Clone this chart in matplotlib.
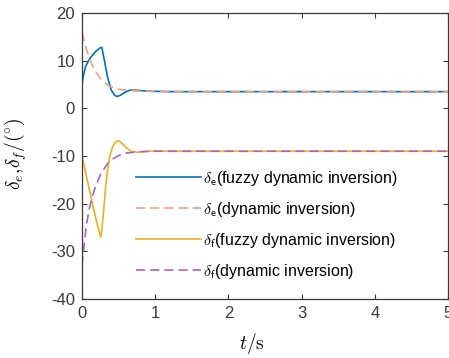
import numpy as np
import matplotlib
matplotlib.use("Agg")
import matplotlib.pyplot as plt

plt.rcParams['mathtext.fontset'] = 'cm'
plt.rcParams['font.family'] = ['Liberation Sans', 'DejaVu Sans']
plt.rcParams['axes.unicode_minus'] = False

# curves (t in s, deflection in degrees)
t_fe = [0, 0.02, 0.05, 0.1, 0.15, 0.2, 0.25, 0.27, 0.3, 0.35, 0.4, 0.45, 0.48,
        0.52, 0.58, 0.65, 0.75, 0.9, 1.2, 2, 3, 4, 5]
de_fuzzy = [5.0, 7.0, 8.8, 10.3, 11.3, 12.1, 12.7, 12.8, 10.5, 6.5, 3.8, 2.7, 2.5,
            2.7, 3.3, 3.8, 3.8, 3.6, 3.5, 3.5, 3.5, 3.5, 3.5]

t_de = [0, 0.05, 0.1, 0.15, 0.2, 0.25, 0.3, 0.35, 0.4, 0.5, 0.6, 0.7, 0.8, 1.0, 1.5, 5]
de_dyn = [16.0, 13.0, 10.5, 8.8, 7.4, 6.3, 5.5, 4.9, 4.5, 4.0, 3.8, 3.7, 3.6, 3.55, 3.5, 3.5]

t_ff = [0, 0.05, 0.1, 0.15, 0.2, 0.25, 0.26, 0.29, 0.32, 0.35, 0.38, 0.42, 0.46, 0.5,
        0.55, 0.6, 0.67, 0.75, 0.9, 1.2, 5]
df_fuzzy = [-10.0, -13.5, -17.0, -20.5, -23.8, -26.8, -27.0, -22.5, -17.0, -12.8, -10.0,
            -8.0, -7.0, -6.8, -7.4, -8.2, -9.0, -9.2, -9.0, -9.0, -9.0]

t_df = [0, 0.03, 0.06, 0.1, 0.15, 0.2, 0.25, 0.3, 0.35, 0.4, 0.5, 0.6, 0.7, 0.8, 1.0, 1.5, 5]
df_dyn = [-33.0, -28.5, -24.5, -21.0, -18.0, -15.8, -14.0, -12.7, -11.6, -10.8, -9.9,
          -9.4, -9.2, -9.1, -9.0, -9.0, -9.0]

labels = [r'$\delta_{\mathsf{e}}$(fuzzy dynamic inversion)',
          r'$\delta_{\mathsf{e}}$(dynamic inversion)',
          r'$\delta_{\mathsf{f}}$(fuzzy dynamic inversion)',
          r'$\delta_{\mathsf{f}}$(dynamic inversion)']

fig = plt.figure(figsize=(4.49, 3.58), dpi=100)
ax = fig.add_axes([82 / 449, 1 - 299 / 358, 366 / 449, 286 / 358])

dash = (0, (5.5, 3))
ax.plot(t_fe, de_fuzzy, color='#0072BD', lw=1.2, label=labels[0])
ax.plot(t_de, de_dyn, color='#EE9E80', lw=1.2, ls=dash, label=labels[1])
ax.plot(t_ff, df_fuzzy, color='#EDB120', lw=1.2, label=labels[2])
ax.plot(t_df, df_dyn, color='#A965BA', lw=1.2, ls=dash, label=labels[3])

ax.set_xlim(0, 5)
ax.set_ylim(-40, 20)
ax.set_xticks(range(0, 6))
ax.set_yticks(range(-40, 21, 10))
ax.tick_params(direction='in', top=True, right=True, length=3.5, width=0.8,
               labelsize=12, colors='#3a3a3a', pad=5)
for s in ax.spines.values():
    s.set_color('#3a3a3a')
    s.set_linewidth(0.9)

ax.set_xlabel(r'$t/\mathrm{s}$', fontsize=14)
ax.xaxis.set_label_coords(0.465, -0.112)
ax.set_ylabel(r'$\delta_e,\!\delta_f/(^{\circ})$', fontsize=14)
ax.yaxis.set_label_coords(-0.145, 0.507)

ax.legend(loc='center', bbox_to_anchor=(0.505, 0.26), frameon=False, fontsize=11.5,
          handlelength=4.1, handletextpad=0.1, labelspacing=0.75)

fig.savefig('out.png', dpi=100)
